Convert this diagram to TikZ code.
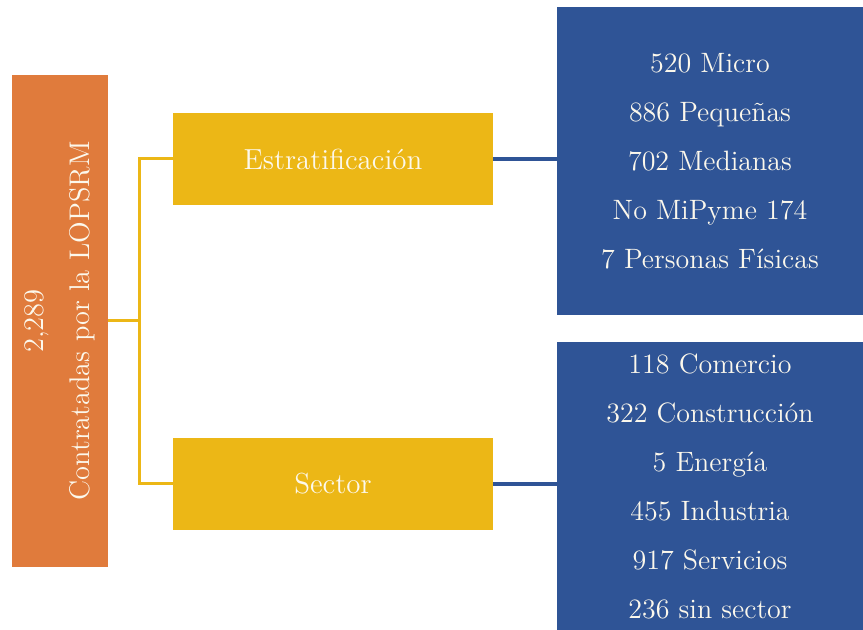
\documentclass[tikz,border=0pt]{standalone}
\usepackage{amssymb,amsfonts,amsmath,calc,tikz}
\usepackage{color}
\usetikzlibrary{positioning}
\definecolor{orangebox}{RGB}{224,123,60}
\definecolor{yellowbox}{RGB}{236,183,22}
\definecolor{bluebox}{RGB}{47,84,150}
\definecolor{paper}{RGB}{252,248,236}

\begin{document}
\begin{tikzpicture}[x=0.5pt,y=-0.5pt,
	ostyle/.style={rectangle, fill=orangebox, text=paper, rotate=90,
	minimum width=246pt, minimum height=48pt, align=center,
	font=\fontsize{14.2}{23}\selectfont},
	ystyle/.style={rectangle, fill=yellowbox, text=paper,
	minimum width=160pt, minimum height=46pt,
	font=\fontsize{14.5}{24.5}\selectfont},
	bstyle/.style={rectangle, fill=bluebox, text=paper, align=center,
	minimum width=153pt, font=\fontsize{14}{24.5}\selectfont},
	yline/.style={draw=yellowbox, line width=1.5pt},
	bline/.style={draw=bluebox, line width=1.75pt}
	]
	\useasboundingbox (0,0) rectangle (863,630);
	\node[ostyle] (total) at (60,321) {2,289\\Contratadas por la LOPSRM};
	\node[ystyle] (estrat) at (333,159) {Estratificaci\'on};
	\node[ystyle] (sector) at (333,484) {Sector};
	\node[bstyle, minimum height=154pt] (tamano) at (710,161)
	{520 Micro\\886 Peque\~nas\\702 Medianas\\No MiPyme 174\\7 Personas F\'isicas};
	\node[bstyle, minimum height=144pt] (giro) at (710,486)
	{118 Comercio\\322 Construcci\'on\\5 Energ\'ia\\455 Industria\\917 Servicios\\236 sin sector};
	\coordinate (split) at (139,321);
	
	\draw[yline] (total.south) to (split);
	\draw[yline] (estrat.west) -| (split) |- (sector.west);
	\draw[bline] (estrat.east) to (estrat.east -| tamano.west);
	\draw[bline] (sector.east) to (sector.east -| giro.west);
\end{tikzpicture}
\end{document}
